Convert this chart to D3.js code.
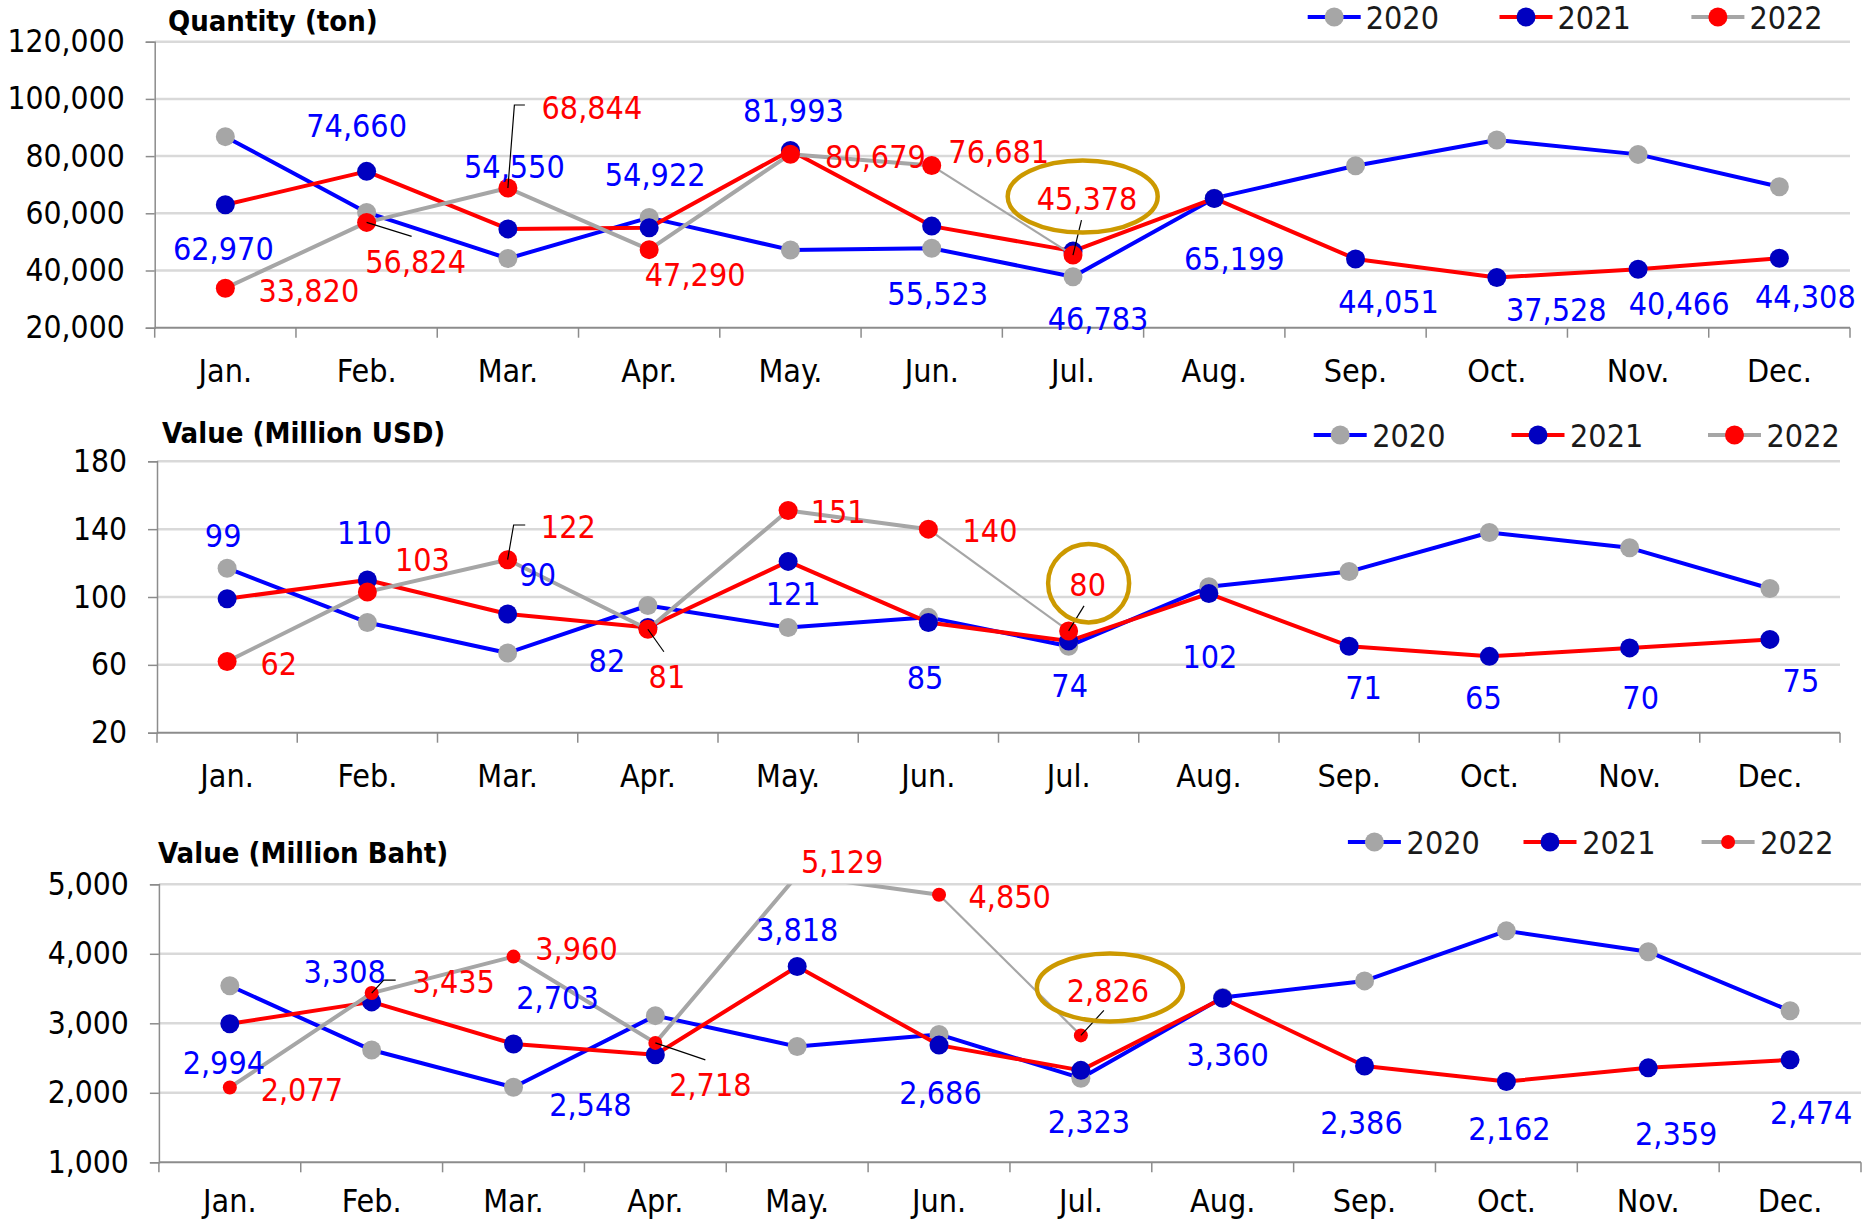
<!DOCTYPE html>
<html><head><meta charset="utf-8">
<script src="https://cdn.jsdelivr.net/npm/d3@7"></script>
<style>
html,body{margin:0;padding:0;background:#fff;}
svg{display:block;}
</style></head><body>
<svg id="chart" width="1869" height="1223"></svg>
<script>
// ---------------- DATA ----------------
const months = ["Jan.","Feb.","Mar.","Apr.","May.","Jun.","Jul.","Aug.","Sep.","Oct.","Nov.","Dec."];
const seriesNames = ["2020","2021","2022"];

const qty2020 = [86800, 60300, 44200, 58500, 47200, 47800, 37800, 65300, 76600, 85600, 80600, 69300];
const qty2021 = [62970, 74660, 54550, 54922, 81993, 55523, 46783, 65199, 44051, 37528, 40466, 44308];
const qty2022 = [33820, 56824, 68844, 47290, 80679, 76681, 45378];
const qtyTicks = [20000, 40000, 60000, 80000, 100000, 120000];

const usd2020 = [117, 85, 67, 95, 82, 88, 71, 106, 115, 138, 129, 105];
const usd2021 = [99, 110, 90, 82, 121, 85, 74, 102, 71, 65, 70, 75];
const usd2022 = [62, 103, 122, 81, 151, 140, 80];
const usdTicks = [20, 60, 100, 140, 180];

const baht2020 = [3540, 2615, 2080, 3110, 2665, 2840, 2210, 3370, 3610, 4330, 4030, 3180];
const baht2021 = [2994, 3308, 2703, 2548, 3818, 2686, 2323, 3360, 2386, 2162, 2359, 2474];
const baht2022 = [2077, 3435, 3960, 2718, 5129, 4850, 2826];
const bahtTicks = [1000, 2000, 3000, 4000, 5000];

const titles = ["Quantity (ton)", "Value (Million USD)", "Value (Million Baht)"];

// ---------------- LAYOUT (pixels) ----------------
const FONT = '"DejaVu Sans Condensed","DejaVu Sans",sans-serif';
const panels = [
  { title: titles[0], series: [qty2020, qty2021, qty2022], ticks: qtyTicks,
    left: 154.7, right: 1850, top: 41.7, bottom: 327.7, monthY: 370,
    titleX: 168, titleY: 21, legendY: 17, legendX: [1307.7, 1499.5, 1691.4], legendGap: 58, r2022: 9.5,
    off2021: [[-2,43.5],[-10,-46],[6.5,-62],[6,-53],[3,-40],[6,67],[25,67],[20,60],[33,43],[59.5,32],[41,34],[26,38.5]],
    off2022: [[83.5,2],[49,39],[84,-81],[46,25],[85,2.5],[67,-14],[14,-57]],
    leaders: {1: [[0,0],[45,14]], 2: [[0,0],[6.5,-83],[17,-83]], 6: [[0,0],[8.5,-35]]},
    ellipse: { i: 6, dx: 9.7, dy: -58.6, rx: 75, ry: 36 } },
  { title: titles[1], series: [usd2020, usd2021, usd2022], ticks: usdTicks,
    left: 157, right: 1840, top: 461.3, bottom: 732.7, monthY: 775,
    titleX: 162, titleY: 433, legendY: 435, legendX: [1313.7, 1511.5, 1708], legendGap: 58.5, r2022: 9.5,
    off2021: [[-4,-63.7],[-3,-48],[30,-39],[-41,32.5],[5,32],[-3.4,54.6],[1,44],[1,62.4],[14.4,41],[-6,41.3],[11,50],[31,40.6]],
    off2022: [[51.7,2],[55,-32],[60.7,-33],[19,47.5],[50,1],[61.6,1],[19,-46.6]],
    leaders: {2: [[0,0],[6,-34.7],[17.6,-34.7]], 3: [[0,0],[16,22.5]], 6: [[0,0],[15.4,-25]]},
    ellipse: { i: 6, dx: 20, dy: -47.7, rx: 40.5, ry: 39.2 } },
  { title: titles[2], series: [baht2020, baht2021, baht2022], ticks: bahtTicks,
    left: 158.9, right: 1861, top: 884.3, bottom: 1162.3, monthY: 1200,
    titleX: 158, titleY: 853, legendY: 842, legendX: [1347.9, 1523.5, 1701.6], legendGap: 58.7, r2022: 7,
    off2021: [[-6,39],[-27,-30],[44,-46.6],[-65,49.3],[0,-37],[1.5,47],[8,51.3],[5,55.7],[-3,56.7],[3,46.8],[28,65.4],[21,52.8]],
    off2022: [[72,2],[82,-11.4],[63,-8.3],[55,42],[45,-13.6],[70.7,2],[27,-44.7]],
    leaders: {1: [[0,0],[12,-13],[24,-13]], 3: [[0,0],[50,17]], 6: [[0,0],[23,-25]]},
    ellipse: { i: 6, dx: 29, dy: -48, rx: 73, ry: 34 } }
];

const styles = [
  { line: "#0000FF", lw: 4, marker: "#A6A6A6", r: 9.5 },
  { line: "#FF0000", lw: 4, marker: "#0000C0", r: 9.5 },
  { line: "#A6A6A6", lw: 4, marker: "#FF0000", r: 9.5 }
];
const labelColors = [null, "#0000FF", "#FF0000"];

// ---------------- DRAW ----------------
const svg = d3.select("#chart");
svg.append("rect").attr("width", 1869).attr("height", 1223).attr("fill", "#fff");
const fmt = d3.format(",");

panels.forEach((p, pi) => {
  const g = svg.append("g");
  const x = d3.scaleBand().domain(months).range([p.left, p.right]).padding(0);
  const bw = x.bandwidth();
  const cx = i => x(months[i]) + bw / 2;
  const y = d3.scaleLinear().domain(d3.extent(p.ticks)).range([p.bottom, p.top]);

  // clip
  const clipId = "clip" + pi;
  svg.append("clipPath").attr("id", clipId).append("rect")
    .attr("x", p.left - 30).attr("y", p.top).attr("width", p.right - p.left + 60).attr("height", p.bottom - p.top + 30);

  // gridlines
  g.append("g").selectAll("line").data(p.ticks.slice(1)).join("line")
    .attr("x1", p.left).attr("x2", p.right).attr("y1", d => y(d)).attr("y2", d => y(d))
    .attr("stroke", "#D9D9D9").attr("stroke-width", 2.5);

  // y axis
  const ya = g.append("g").attr("transform", `translate(${p.left},0)`)
    .call(d3.axisLeft(y).tickValues(p.ticks).tickFormat(fmt).tickSize(9).tickPadding(21))
    .attr("font-family", FONT).attr("font-size", 31.5);
  ya.select(".domain").attr("stroke", "#8C8C8C").attr("stroke-width", 1.5);
  ya.selectAll(".tick line").attr("stroke", "#8C8C8C").attr("stroke-width", 1.5);
  ya.selectAll(".tick text").attr("fill", "#000");

  // x axis
  g.append("line").attr("x1", p.left).attr("x2", p.right).attr("y1", p.bottom).attr("y2", p.bottom)
    .attr("stroke", "#8C8C8C").attr("stroke-width", 2);
  const bounds = months.map(m => x(m)).concat([x.range()[1]]);
  g.append("g").selectAll("line").data(bounds).join("line")
    .attr("x1", d => d).attr("x2", d => d).attr("y1", p.bottom).attr("y2", p.bottom + 10)
    .attr("stroke", "#8C8C8C").attr("stroke-width", 1.5);
  g.append("g").selectAll("text").data(months).join("text")
    .attr("x", d => x(d) + bw / 2).attr("y", p.monthY).attr("dy", "0.36em")
    .attr("text-anchor", "middle").attr("font-family", FONT).attr("font-size", 32).attr("fill", "#000")
    .text(d => d);

  // title
  g.append("text").attr("x", p.titleX).attr("y", p.titleY).attr("dy", "0.36em")
    .attr("font-family", FONT).attr("font-weight", "bold").attr("font-size", 29).attr("fill", "#000")
    .text(p.title);

  // series
  const plot = g.append("g").attr("clip-path", `url(#${clipId})`);
  const line = d3.line().x(d => cx(d.i)).y(d => y(d.v));
  p.series.forEach((arr, si) => {
    const st = styles[si];
    const pts = arr.map((v, i) => ({ i, v }));
    if (si === 2) {
      plot.append("path").datum(pts.slice(0, 6)).attr("d", line).attr("fill", "none")
        .attr("stroke", st.line).attr("stroke-width", st.lw).attr("stroke-linejoin", "round");
      plot.append("path").datum(pts.slice(5)).attr("d", line).attr("fill", "none")
        .attr("stroke", st.line).attr("stroke-width", 2.2);
    } else {
      plot.append("path").datum(pts).attr("d", line).attr("fill", "none")
        .attr("stroke", st.line).attr("stroke-width", st.lw).attr("stroke-linejoin", "round");
    }
    plot.append("g").selectAll("circle").data(pts).join("circle")
      .attr("cx", d => cx(d.i)).attr("cy", d => y(d.v))
      .attr("r", si === 2 ? p.r2022 : st.r).attr("fill", st.marker);
  });

  // data labels
  [1, 2].forEach(si => {
    const arr = p.series[si];
    const offs = si === 1 ? p.off2021 : p.off2022;
    g.append("g").selectAll("text").data(arr).join("text")
      .attr("x", (d, i) => cx(i) + offs[i][0]).attr("y", (d, i) => y(d) + offs[i][1]).attr("dy", "0.36em")
      .attr("text-anchor", "middle").attr("font-family", FONT).attr("font-size", 32)
      .attr("fill", labelColors[si]).text(d => fmt(d));
  });

  // leader lines (2022)
  Object.entries(p.leaders).forEach(([k, pts]) => {
    const i = +k, v = p.series[2][i];
    g.append("polyline")
      .attr("points", pts.map(q => [cx(i) + q[0], y(v) + q[1]].join(",")).join(" "))
      .attr("fill", "none").attr("stroke", "#000").attr("stroke-width", 1.2);
  });

  // highlight ellipse
  const e = p.ellipse;
  g.append("ellipse").attr("cx", cx(e.i) + e.dx).attr("cy", y(p.series[2][e.i]) + e.dy)
    .attr("rx", e.rx).attr("ry", e.ry).attr("fill", "none").attr("stroke", "#CC9900").attr("stroke-width", 4.5);

  // legend
  const lg = g.append("g");
  seriesNames.forEach((name, si) => {
    const st = styles[si], lx = p.legendX[si];
    lg.append("line").attr("x1", lx).attr("x2", lx + 53).attr("y1", p.legendY).attr("y2", p.legendY)
      .attr("stroke", st.line).attr("stroke-width", st.lw);
    lg.append("circle").attr("cx", lx + 26.5).attr("cy", p.legendY)
      .attr("r", si === 2 ? p.r2022 : st.r).attr("fill", st.marker);
    lg.append("text").attr("x", lx + p.legendGap).attr("y", p.legendY).attr("dy", "0.36em")
      .attr("font-family", FONT).attr("font-size", 32).attr("fill", "#1a1a1a").text(name);
  });
});
</script>
</body></html>
